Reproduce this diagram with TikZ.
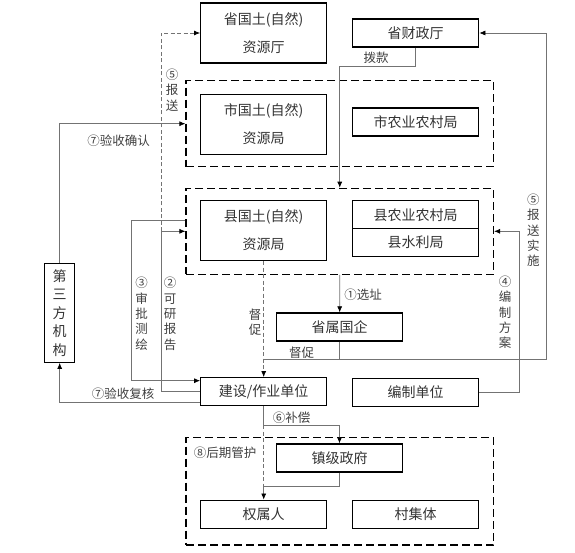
\documentclass[tikz,border=0pt]{standalone}
\usepackage{fontspec}
\setmainfont{Noto Sans CJK SC}
\usetikzlibrary{arrows.meta}

\begin{document}
\begin{tikzpicture}[x=1pt, y=-1pt,
    box/.style={draw=black, line width=1.3pt, minimum width=126pt, minimum height=28pt,
        inner sep=0pt, align=center, text=black!80, font=\fontsize{14}{28}\selectfont},
    tallbox/.style={box, minimum height=60pt},
    group/.style={draw=black, line width=1.2pt, dash pattern=on 8pt off 4pt,
        minimum width=307.5pt, minimum height=86pt, inner sep=0pt},
    link/.style={draw=black!55, line width=0.7pt},
    arr/.style={link, -{Latex[length=6pt, width=5pt, color=black]}},
    dlink/.style={link, dash pattern=on 4pt off 2.5pt},
    darr/.style={dlink, -{Latex[length=6pt, width=5pt, color=black]}},
    lab/.style={inner sep=0pt, align=center, text=black!75, font=\fontsize{12.5}{15.3}\selectfont}]
    \useasboundingbox (0, 0) rectangle (575, 553);

    % dashed groups
    \node[group] (gCity) at (339.75, 123.7) {};
    \node[group] (gCounty) at (339.75, 231.3) {};
    \node[group, minimum height=107.7pt] (gTown) at (339.75, 491.2) {};

    % units
    \node[tallbox] (prov) at (263.7, 33) {省国土(自然)\\资源厅};
    \node[box] (fin) at (415.7, 33) {省财政厅};
    \node[tallbox] (city) at (263.7, 124.2) {市国土(自然)\\资源局};
    \node[box] (cityAg) at (415.7, 121.9) {市农业农村局};
    \node[tallbox] (county) at (263.7, 230.4) {县国土(自然)\\资源局};
    \node[box] (countyAg) at (415.7, 214.7) {县农业农村局};
    \node[box] (countyWr) at (415.7, 242.7) {县水利局};
    \node[box, minimum width=30pt, minimum height=99pt, font=\fontsize{14}{18.5}\selectfont]
        (third) at (59.7, 312.7) {第\\三\\方\\机\\构};
    \node[box] (soe) at (339.7, 327) {省属国企};
    \node[box] (build) at (263.7, 391.7) {建设/作业单位};
    \node[box] (plan) at (415.7, 392.2) {编制单位};
    \node[box] (town) at (339.5, 458) {镇级政府};
    \node[box] (owner) at (263.7, 514.2) {权属人};
    \node[box] (village) at (415.7, 514.2) {村集体};

    % bends
    \coordinate (rpt) at (161, 231.3);
    \coordinate (sp) at (131.7, 220.7);
    \coordinate (bk) at (339.75, 66.7);
    \coordinate (jr) at (546, 359.3);
    \coordinate (pj) at (519, 231.3);
    \coordinate (cp) at (263.7, 425);
    \coordinate (tw) at (263.7, 486);

    % connectors
    \draw[arr] (build.west) -| (rpt) -- (gCounty.west |- rpt);
    \draw[darr] (rpt) |- (prov.west);
    \draw[arr] (gCounty.west |- sp) -- (sp) |- ([yshift=11pt]build.west);
    \draw[arr] (third.north) |- (gCity.west);
    \draw[arr] ([yshift=-11pt]build.west) -| (third.south);
    \draw[arr] (fin.south) |- (bk) -- (gCounty.north);
    \draw[arr] (gCounty.south) -- (soe.north);
    \draw[darr] (county.south) -- (build.north);
    \draw[link] (soe.south) -- (soe.south |- jr);
    \draw[arr] (build.north |- jr) -- (jr) |- (fin.east);
    \draw[arr] (plan.east) -| (pj) -- (gCounty.east);
    \draw[arr] (build.south) -- (cp) -| (town.north);
    \draw[dlink] (cp) -- (tw);
    \draw[arr] (town.south) |- (tw) -- (owner.north);

    % labels
    \node[lab] (lbBk) at (376, 58) {拨款};
    \node[lab] (lbRpt) at (172, 90) {⑤\\报\\送};
    \node[lab] (lbAccA) at (118.5, 141) {⑦验收确认};
    \node[lab] (lbImp) at (533.3, 230.5) {⑤\\报\\送\\实\\施};
    \node[lab] (lbSur) at (141.7, 313.7) {③\\审\\批\\测\\绘};
    \node[lab] (lbFs) at (170, 313.7) {②\\可\\研\\报\\告};
    \node[lab] (lbUrgA) at (255, 322) {督\\促};
    \node[lab] (lbSite) at (363, 295) {①选址};
    \node[lab] (lbUrgB) at (301.7, 352.7) {督促};
    \node[lab] (lbPlan) at (505, 312.3) {④\\编\\制\\方\\案};
    \node[lab] (lbAccB) at (123, 394) {⑦验收复核};
    \node[lab] (lbComp) at (291.7, 417.3) {⑥补偿};
    \node[lab] (lbMaint) at (225, 452.3) {⑧后期管护};
\end{tikzpicture}
\end{document}
